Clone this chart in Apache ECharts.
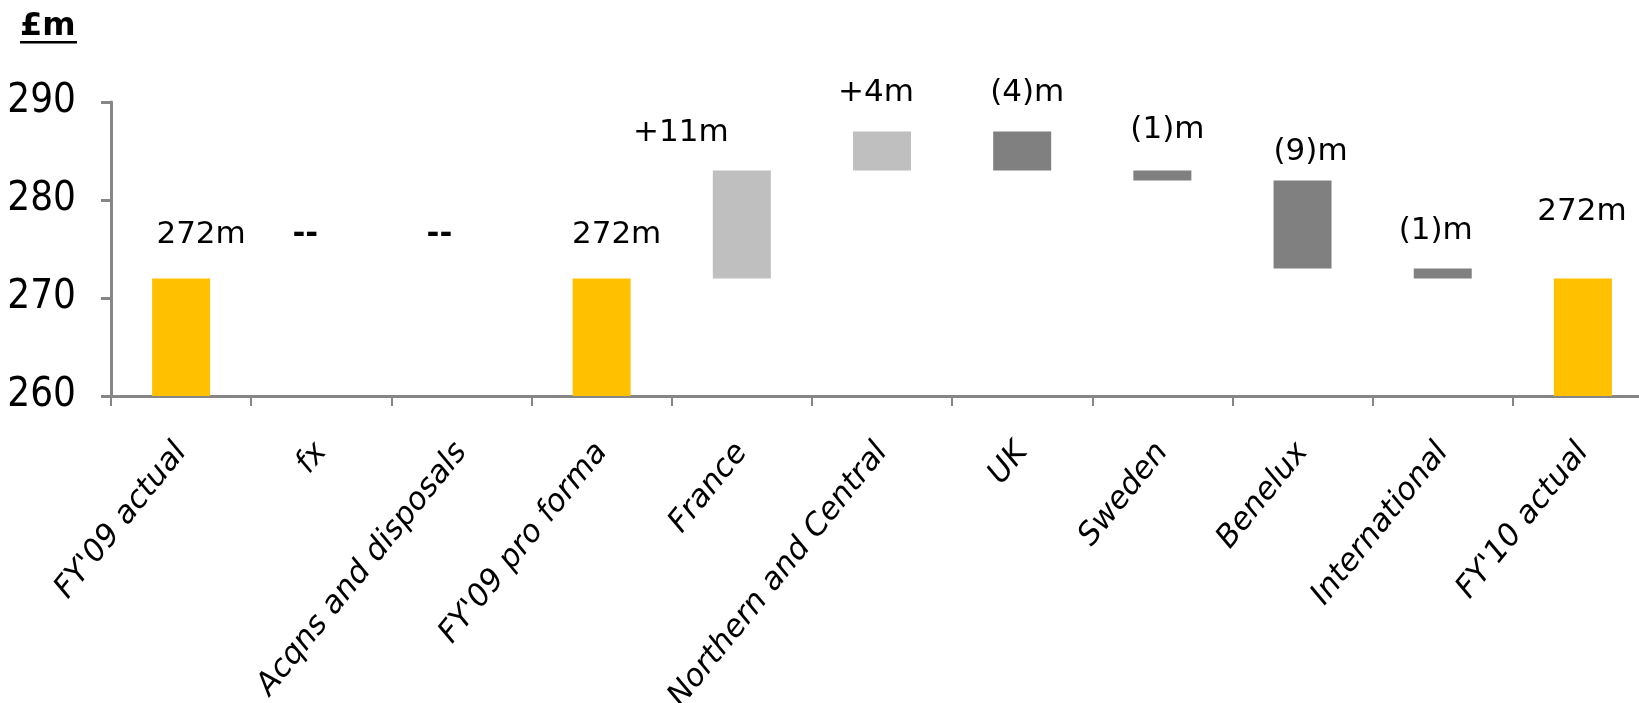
<!DOCTYPE html>
<html>
<head>
<meta charset="utf-8">
<script src="https://cdn.jsdelivr.net/npm/echarts@6/dist/echarts.min.js"></script>
<style>
html,body{margin:0;padding:0;background:#fff;}
#chart{width:1639px;height:703px;}
</style>
</head>
<body>
<div id="chart"></div>
<script>
// ---- data ----
const categories = ["FY'09 actual", "fx", "Acqns and disposals", "FY'09 pro forma", "France",
  "Northern and Central", "UK", "Sweden", "Benelux", "International", "FY'10 actual"];
const totals = [272, null, null, 272, null, null, null, null, null, null, 272];
const deltas = [null, 0, 0, null, 11, 4, -4, -1, -9, -1, null];
const valueLabels = ['272m', '--', '--', '272m', '+11m', '+4m', '(4)m', '(1)m', '(9)m', '(1)m', '272m'];
const yTicks = [260, 270, 280, 290];
const unitTitle = '£m';

// ---- layout / style (not data) ----
const labelNudge = [[20,-5],[-16,-5],[-22,-5],[15,-5],[-61,1],[-6,0],[5,0],[5,-2],[8,10],[-7,1],[-1,-28]];
const COL_TOTAL = '#FFC000', COL_UP = '#BFBFBF', COL_DOWN = '#808080';

let level = 0;
const baseData = [], barData = [];
categories.forEach((c, i) => {
  let base, val, color;
  if (totals[i] !== null) {
    base = 0; val = totals[i]; level = totals[i]; color = COL_TOTAL;
  } else {
    const d = deltas[i];
    if (d >= 0) { base = level; val = d; color = COL_UP; }
    else { base = level + d; val = -d; color = COL_DOWN; }
    level += d;
  }
  baseData.push(base);
  const isDash = valueLabels[i] === '--';
  barData.push({
    value: val,
    itemStyle: { color: color },
    label: { offset: labelNudge[i], fontWeight: isDash ? 'bold' : 'normal' }
  });
});

const chart = echarts.init(document.getElementById('chart'));
chart.setOption({
  animation: false,
  backgroundColor: '#fff',
  grid: { left: 111, top: 102, width: 1542, height: 294, containLabel: false, outerBoundsMode: 'none' },
  xAxis: {
    type: 'category',
    data: categories,
    boundaryGap: true,
    axisLine: { lineStyle: { color: '#868686', width: 3 } },
    axisTick: { show: true, length: 10, lineStyle: { color: '#868686', width: 2 } },
    axisLabel: {
      interval: 0, rotate: 51, margin: 51,
      fontFamily: 'DejaVu Sans, Verdana, sans-serif', fontStyle: 'italic', fontSize: 31, color: '#000'
    }
  },
  yAxis: {
    type: 'value',
    min: yTicks[0], max: yTicks[yTicks.length - 1], interval: 10,
    splitLine: { show: false },
    axisLine: { show: true, lineStyle: { color: '#868686', width: 3 } },
    axisTick: { show: true, length: 10, lineStyle: { color: '#868686', width: 3 } },
    axisLabel: {
      margin: 35, fontSize: 40, color: '#000',
      fontFamily: '"DejaVu Sans Condensed", "Liberation Sans Narrow", sans-serif'
    }
  },
  series: [
    {
      type: 'bar', stack: 'w', silent: true, barWidth: 58,
      itemStyle: { color: 'rgba(0,0,0,0)' },
      data: baseData
    },
    {
      type: 'bar', stack: 'w', barWidth: 58,
      data: barData,
      label: {
        show: true, position: 'top', distance: 23,
        fontFamily: 'DejaVu Sans, Verdana, sans-serif', fontSize: 31, color: '#000',
        formatter: p => valueLabels[p.dataIndex]
      }
    }
  ],
  graphic: [
    { type: 'text', left: 20, top: 11,
      style: { text: unitTitle, font: 'bold 32px "DejaVu Sans", Verdana, sans-serif', fill: '#000' } },
    { type: 'rect', shape: { x: 20, y: 41, width: 57, height: 2.5 }, style: { fill: '#000' } }
  ]
});
</script>
</body>
</html>
